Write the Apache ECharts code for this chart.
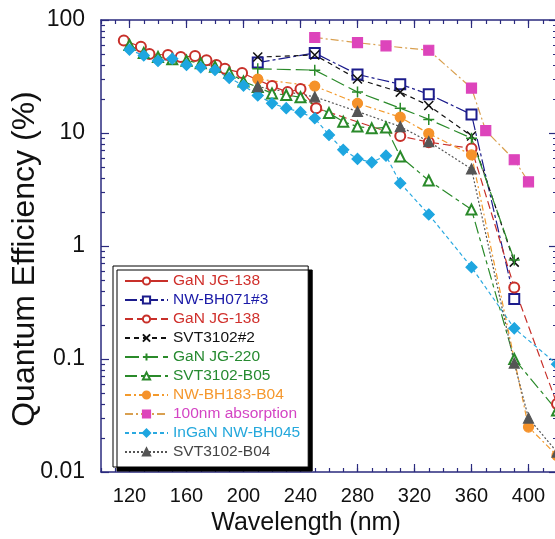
<!DOCTYPE html>
<html><head><meta charset="utf-8">
<script src="https://cdn.jsdelivr.net/npm/echarts@6/dist/echarts.min.js"></script>
<style>html,body{margin:0;padding:0;background:#fff}#c{width:555px;height:539px}</style>
</head><body><div id="c"></div>
<script>
// ---- data ----
const xTicks = [120,160,200,240,280,320,360,400];
const yTicks = [0.01,0.1,1,10,100];
const yTickLabels = ['0.01','0.1','1','10','100'];
const seriesNames = ['GaN JG-138','NW-BH071#3','GaN JG-138 ','SVT3102#2','GaN JG-220','SVT3102-B05','NW-BH183-B04','100nm absorption','InGaN NW-BH045','SVT3102-B04'];
const ganJG138a = [[116,66],[128,58],[134,50],[147,49],[156,47],[166,48],[174,44],[181,40],[187,37],[199,34],[220,26],[231,23],[240,24.5],[251,16.6]];
const nwBH071 = [[210,42],[250,51],[280,33],[310,27],[330,22],[360,14.6],[390,0.34]];
const ganJG138b = [[251,16.6],[310,9.4],[330,8.3],[360,7.3],[390,0.43],[420,0.04]];
const svt3102n2 = [[210,47],[250,49],[280,30],[310,23],[330,17.5],[360,9.4],[390,0.72]];
const ganJG220 = [[210,37],[250,36],[280,23],[310,16.6],[330,13.2],[360,9.0],[390,0.75]];
const svtB05 = [[120,60],[130,51],[140,47],[150,45],[160,43.6],[170,41.4],[180,38.6],[190,34.2],[200,28.5],[210,25.5],[220,22.4],[230,21.7],[240,20.7],[260,15],[270,12.6],[280,11.4],[290,11.0],[300,11.2],[310,6.2],[330,3.8],[360,2.1],[390,0.1],[420,0.035]];
const nwBH183 = [[210,30],[250,26],[280,18.3],[310,13.8],[330,9.9],[360,6.4],[400,0.025],[420,0.014]];
const abs100 = [[250,70],[280,63],[300,59],[330,54],[360,25],[370,10.5],[390,5.8],[400,3.7]];
const inganBH045 = [[120,54.6],[130,48.5],[140,43.4],[150,45.4],[160,40],[170,38.1],[180,36.1],[190,30.7],[200,26.3],[210,21.5],[220,18.3],[230,16.6],[240,15.3],[250,13.5],[260,9.6],[270,7.1],[280,5.9],[290,5.5],[300,6.3],[310,3.6],[330,1.9],[360,0.65],[390,0.187],[420,0.09]];
const svtB04 = [[210,25.7],[250,20.9],[280,15.5],[310,11.4],[330,8.4],[360,4.8],[390,0.092],[400,0.030],[420,0.015]];

// ---- styling ----
const FONT = 'Liberation Sans, Arial, Helvetica, sans-serif';
const AX = '#2a2a7e';
const seriesData = [ganJG138a, nwBH071, ganJG138b, svt3102n2, ganJG220, svtB05, nwBH183, abs100, inganBH045, svtB04];
const lineColors = ['#c8302a','#1c1c8c','#c8302a','#111111','#2a8a2a','#2a8a2a','#f39a2c','#d9a050','#2aa9e0','#555555'];
const markColors = ['#c8302a','#1c1c8c','#c8302a','#111111','#2a8a2a','#2a8a2a','#f5922a','#dd44bb','#1ea6e0','#555555'];
const textColors = ['#d0302c','#1a1aa8','#d0302c','#111111','#268a30','#268a30','#f5982e','#d444c4','#25a8dc','#444444'];
const dashes = ['solid',[12,3,3,3],[8,4],[5,4],[14,5],[12,4,4,4],[6,3,2,3],[8,3,2,3],[4,3],[2,2]];
const XP = 'path://M0,0L10,10M10,0L0,10';
const PP = 'path://M5,0L5,10M0,5L10,5';
const symbols = ['emptyCircle','emptyRect','emptyCircle',XP,PP,'emptyTriangle','circle','rect','diamond','triangle'];
const sizes = [10,10,10,9,11,10,10,10,11,10];

const minorY = [];
[0.01,0.1,1,10].forEach(d => { for (let k=2;k<=9;k++) minorY.push(+(k*d).toPrecision(3)); });

function xAx(pos, major, label) {
  const a = {type:'value', min:100, max:420, position:pos, gridIndex:0,
    axisLine:{show:major, onZero:false, lineStyle:{color:AX, width:1.5}},
    axisTick:{inside:true, length: major?8:4, lineStyle:{color:AX, width:1.2}},
    axisLabel:{show:false}, splitLine:{show:false}};
  if (major) { a.axisTick.customValues = xTicks; } else { a.interval = 10; }
  if (label) {
    a.axisLabel = {show:true, customValues:xTicks, fontSize:20, color:'#111', margin:14, fontFamily:FONT};
  }
  return a;
}
function yAx(pos, major, label) {
  const a = {type:'log', logBase:10, min:0.01, max:100, position:pos, gridIndex:0,
    axisLine:{show:major, onZero:false, lineStyle:{color:AX, width:1.5}},
    axisTick:{inside:true, length: major?8:4, customValues: major?yTicks:minorY, lineStyle:{color:AX, width:1.2}},
    axisLabel:{show:false}, splitLine:{show:false}, minorTick:{show:false}};
  if (label) {
    a.axisLabel = {show:true, customValues:yTicks, fontSize:23, color:'#111', margin:16, fontFamily:FONT,
      formatter: v => { const i = yTicks.findIndex(t => Math.abs(Math.log10(t)-Math.log10(v))<1e-6); return i>=0 ? yTickLabels[i] : ''; }};
  }
  return a;
}

const chart = echarts.init(document.getElementById('c'), null, {renderer:'canvas'});
chart.setOption({
  animation:false,
  backgroundColor:'#fff',
  title:[
    {text:'Wavelength (nm)', left:306, top:511, textAlign:'center', padding:0,
     textStyle:{fontSize:25, fontWeight:'normal', color:'#111', fontFamily:FONT}}
  ],
  graphic:[
    {type:'text', x:25, y:259, rotation:Math.PI/2,
     style:{text:'Quantum Efficiency (%)', fontSize:32, fill:'#111', fontFamily:FONT, align:'center', verticalAlign:'middle'}}
  ],
  grid:{left:101, right:-2, top:20, bottom:67, containLabel:false, outerBoundsMode:'none'},
  xAxis:[xAx('bottom',true,true), xAx('top',true,false), xAx('bottom',false,false), xAx('top',false,false)],
  yAxis:[yAx('left',true,true), yAx('right',true,false), yAx('left',false,false), yAx('right',false,false)],
  legend:{
    orient:'vertical', left:113, top:266, padding:[7,8,7,11],
    itemWidth:43, itemHeight:9, itemGap:3, selectedMode:false,
    backgroundColor:'#fff', borderColor:'#000', borderWidth:1,
    shadowColor:'#000', shadowOffsetX:4, shadowOffsetY:4, shadowBlur:0.01,
    textStyle:{fontSize:15.5, lineHeight:16, fontFamily:FONT},
    data: seriesNames.map((n,i)=>({name:n, textStyle:{color:textColors[i]}}))
  },
  series: seriesNames.map((n,i)=>({
    name:n, type:'line', xAxisIndex:0, yAxisIndex:0,
    data: seriesData[i],
    symbol: symbols[i], symbolSize: sizes[i], showAllSymbol:true,
    lineStyle:{color:lineColors[i], width:1.2, type:dashes[i]},
    itemStyle:{color: (symbols[i]===XP||symbols[i]===PP) ? 'rgba(0,0,0,0)' : markColors[i], borderColor:markColors[i], borderWidth: (symbols[i]===XP||symbols[i]===PP)?1.5:1.2},
    z: i===7 ? 3 : 2
  }))
});
</script>
</body></html>
